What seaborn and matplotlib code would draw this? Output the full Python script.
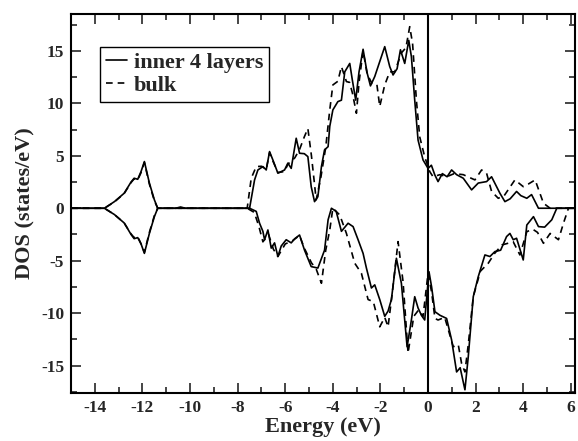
import numpy as np
import pandas as pd
import seaborn as sns
import matplotlib.pyplot as plt
from matplotlib.ticker import MultipleLocator

# semicore peak, shared shape
semi_e = [-15, -13.6, -13.18, -12.77, -12.48, -12.35, -12.2, -12.06, -11.92, -11.71, -11.5, -11.36]

# inner 4 layers, spin up
inner_up_e = semi_e + [-10.6, -10.4, -10.2, -7.5, -7.29, -7.15, -6.94, -6.8, -6.66, -6.52, -6.31, -6.03,
                       -5.89, -5.75, -5.54, -5.4, -5.2, -5.05, -4.91, -4.77, -4.63, -4.48, -4.35, -4.2,
                       -4.13, -4.0, -3.79, -3.64, -3.5, -3.29, -3.18, -3.04, -2.9, -2.73, -2.56, -2.42,
                       -2.24, -2.1, -1.82, -1.61, -1.47, -1.3, -1.16, -0.98, -0.81, -0.7, -0.56, -0.42,
                       -0.21, 0.0, 0.14, 0.28, 0.42, 0.6, 0.8, 0.99, 1.2, 1.48, 1.83, 2.11, 2.46, 2.67,
                       3.02, 3.23, 3.45, 3.72, 3.9, 4.15, 4.35, 4.64, 6.2]
inner_up_d = [0, 0, 0.63, 1.43, 2.5, 2.86, 2.76, 3.5, 4.45, 2.4, 0.8, 0,
              0, 0.12, 0, 0, 2.7, 3.65, 3.97, 3.65, 5.4, 4.6, 3.34, 3.65,
              4.3, 3.8, 6.67, 5.24, 5.2, 4.92, 2.06, 0.63, 1.1, 3.97, 5.56, 5.87,
              7.8, 9.37, 10.16, 10.3, 13.0, 13.8, 12.2, 10.3, 13.0, 15.15, 12.9, 11.66,
              12.55, 13.5, 15.4, 13.5, 12.7, 13.3, 15.1, 13.8, 16.0, 14.45, 10.3, 6.5,
              4.6, 3.8, 4.1, 3.2, 2.54, 3.3, 3.0, 3.65, 3.2, 2.86, 1.75, 2.4, 2.54, 3.0,
              1.43, 0.63, 0.9, 1.6, 1.2, 0.95, 1.3, 0, 0]

# bulk, spin up
bulk_up_e = semi_e + [-7.6, -7.43, -7.22, -7.0, -6.8, -6.66, -6.52, -6.31, -6.03, -5.89, -5.6, -5.4,
                      -5.2, -5.05, -4.9, -4.7, -4.5, -4.3, -4.13, -4.0, -3.79, -3.64, -3.43, -3.3,
                      -3.18, -3.01, -2.9, -2.73, -2.56, -2.36, -2.15, -2.03, -1.82, -1.61, -1.4, -1.12,
                      -0.93, -0.77, -0.65, -0.49, -0.35, -0.14, 0.07, 0.21, 0.5, 0.78, 1.1, 1.48,
                      1.97, 2.25, 2.46, 2.67, 2.95, 3.2, 3.65, 4.0, 4.21, 4.5, 4.85, 5.13, 6.2]
bulk_up_d = [0, 0, 0.6, 1.4, 2.45, 2.8, 2.7, 3.4, 4.35, 2.3, 0.7, 0,
             0, 2.86, 3.97, 4.0, 3.7, 5.3, 4.5, 3.4, 3.5, 4.2, 4.8, 5.6,
             6.8, 7.6, 5.0, 0.8, 3.0, 5.8, 9.37, 11.75, 12.1, 13.5, 12.07, 12.0,
             11.0, 9.05, 12.0, 15.0, 12.8, 11.9, 11.8, 9.7, 11.75, 13.0, 13.0, 14.8,
             15.3, 17.3, 15.7, 10.3, 6.8, 4.9, 3.5, 3.0, 3.2, 3.0, 3.3, 3.2,
             2.7, 3.65, 3.34, 1.6, 0.95, 1.2, 2.7, 2.06, 2.3, 2.7, 0.48, 0, 0]

# inner 4 layers, spin down
inner_dn_e = semi_e + [-7.5, -7.22, -7.08, -6.94, -6.87, -6.73, -6.59, -6.45, -6.31, -6.17, -5.96, -5.75,
                       -5.6, -5.4, -5.19, -4.91, -4.63, -4.35, -4.2, -4.06, -3.86, -3.64, -3.36, -3.15,
                       -2.94, -2.73, -2.59, -2.38, -2.24, -2.03, -1.82, -1.68, -1.54, -1.33, -1.12, -0.88,
                       -0.7, -0.56, -0.42, -0.28, -0.14, 0.04, 0.15, 0.29, 0.5, 0.78, 0.99, 1.2,
                       1.35, 1.55, 1.69, 1.9, 2.11, 2.39, 2.6, 2.81, 3.05, 3.3, 3.44, 3.58,
                       3.72, 4.0, 4.15, 4.43, 4.64, 4.9, 5.2, 5.41, 6.2]
inner_dn_d = [0, 0, -0.6, -1.4, -2.5, -2.9, -2.8, -3.4, -4.3, -2.4, -0.8, 0,
              0, -0.3, -1.43, -2.2, -3.0, -2.07, -3.8, -3.3, -4.6, -3.6, -3.0, -3.3,
              -2.9, -2.55, -4.0, -5.56, -5.7, -4.0, -1.1, 0, -0.3, -2.2, -1.43, -1.75,
              -3.0, -4.3, -5.7, -7.6, -7.3, -8.7, -10.3, -9.8, -8.7, -4.77, -7.15, -13.2,
              -10.65, -8.43, -9.5, -10.2, -10.65, -6.05, -7.5, -9.86, -10.2, -10.5, -12.55, -15.6,
              -15.2, -17.3, -14.15, -8.43, -6.52, -4.45, -4.6, -4.13, -4.0, -2.7, -2.4, -3.0,
              -2.86, -4.93, -1.6, -0.8, -1.75, -1.8, -1.1, 0, 0]

# bulk, spin down
bulk_dn_e = semi_e + [-7.6, -7.3, -7.1, -6.94, -6.7, -6.5, -6.31, -6.0, -5.7, -5.4, -5.2, -4.9,
                      -4.7, -4.48, -4.3, -4.13, -4.0, -3.71, -3.43, -3.08, -2.8, -2.52, -2.3, -2.03,
                      -1.82, -1.68, -1.5, -1.26, -1.05, -0.84, -0.6, -0.4, -0.21, 0.0, 0.15, 0.29,
                      0.42, 0.7, 1.06, 1.27, 1.41, 1.55, 1.69, 1.9, 2.2, 2.53, 2.8, 3.1,
                      3.58, 3.86, 4.15, 4.4, 4.6, 4.85, 5.13, 5.48, 5.69, 5.9, 6.2]
bulk_dn_d = [0, 0, -0.6, -1.4, -2.45, -2.8, -2.7, -3.4, -4.2, -2.3, -0.7, 0,
             0, -0.4, -1.8, -3.2, -2.5, -3.9, -4.6, -3.4, -3.1, -2.6, -3.8, -5.2,
             -5.8, -7.15, -4.0, -2.07, 0, -0.64, -2.4, -5.24, -6.2, -8.7, -8.9, -11.3,
             -10.4, -11.3, -8.0, -3.18, -7.0, -13.8, -10.3, -9.7, -10.3, -6.2, -8.0, -10.5,
             -10.65, -10.4, -13.2, -13.0, -14.8, -15.6, -13.0, -8.43, -6.0, -5.24, -4.3, -3.5,
             -3.2, -4.45, -2.23, -2.0, -2.3, -3.34, -2.4, -3.0, -1.43, 0, 0]

sns.set_style("ticks")
plt.rcParams['font.family'] = ['Liberation Serif', 'DejaVu Serif']
plt.rcParams['font.weight'] = 'bold'
plt.rcParams['axes.unicode_minus'] = False

fig = plt.figure(figsize=(5.78, 4.41), dpi=100)
ax = fig.add_axes([0.123, 0.109, 0.872, 0.859])

lw = 1.2
dash = (0, (4, 3))
sns.lineplot(x=inner_up_e, y=inner_up_d, ax=ax, color='black', lw=lw, estimator=None, sort=False,
             label='inner 4 layers')
sns.lineplot(x=bulk_up_e, y=bulk_up_d, ax=ax, color='black', lw=lw, estimator=None, sort=False,
             linestyle=dash, label='bulk')
sns.lineplot(x=inner_dn_e, y=inner_dn_d, ax=ax, color='black', lw=lw, estimator=None, sort=False)
sns.lineplot(x=bulk_dn_e, y=bulk_dn_d, ax=ax, color='black', lw=lw, estimator=None, sort=False,
             linestyle=dash)
ax.axvline(0, color='black', lw=1.5)

ax.set_xlim(-15, 6.18)
ax.set_ylim(-17.6, 18.5)
ax.xaxis.set_major_locator(MultipleLocator(2))
ax.xaxis.set_minor_locator(MultipleLocator(1))
ax.yaxis.set_major_locator(MultipleLocator(5))
ax.yaxis.set_minor_locator(MultipleLocator(2.5))
ax.tick_params(which='both', direction='in', top=True, right=True, width=1.2, labelsize=12.5)
ax.tick_params(which='major', length=7, pad=5)
ax.tick_params(which='minor', length=4)
for lab in ax.get_xticklabels() + ax.get_yticklabels():
    lab.set_fontweight('bold')
for s in ax.spines.values():
    s.set_linewidth(1.5)
    s.set_color('black')

ax.set_xlabel('Energy (eV)', fontsize=16, fontweight='bold', labelpad=1)
ax.set_ylabel('DOS (states/eV)', fontsize=16, fontweight='bold', labelpad=4)

leg = ax.legend(loc='upper left', bbox_to_anchor=(0.058, 0.913), borderaxespad=0,
                fancybox=False, edgecolor='black', framealpha=1, handlelength=0.95,
                handletextpad=0.3, borderpad=0.25, labelspacing=0.1,
                prop={'size': 16, 'weight': 'bold'})
leg.get_frame().set_linewidth(1.0)

fig.savefig('out.png', dpi=100)
